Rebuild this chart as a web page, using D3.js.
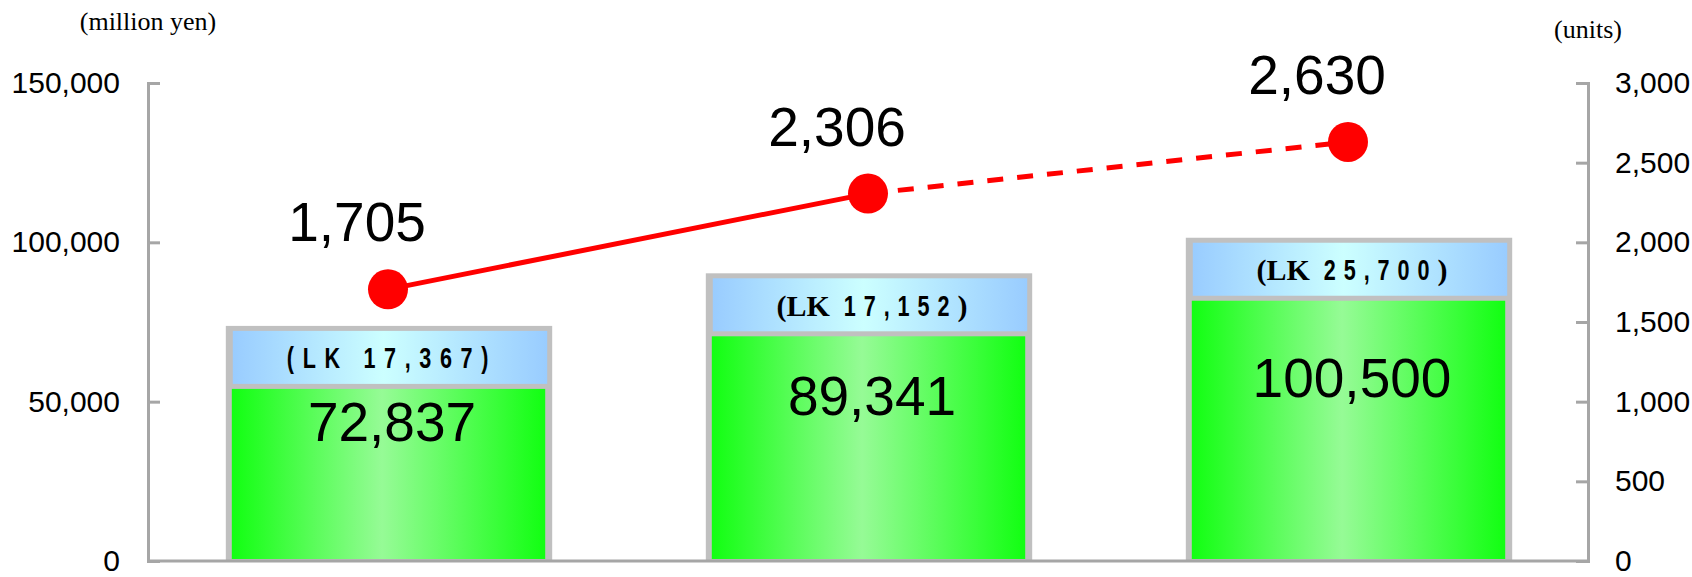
<!DOCTYPE html>
<html>
<head>
<meta charset="utf-8">
<script src="https://cdn.jsdelivr.net/npm/d3@7"></script>
<style>
  html, body { margin: 0; padding: 0; background: #ffffff; }
  svg { display: block; }
  text.row { white-space: pre; }
</style>
</head>
<body>
<svg id="chart" width="1692" height="577"></svg>
<script>
// ---- data ----
const categories = ["Year 1", "Year 2", "Year 3"];
const salesValues = [72837, 89341, 100500];   // million yen (bars)
const lkValues = [17367, 17152, 25700];       // LK figures shown in bar headers
const unitValues = [1705, 2306, 2630];        // units (line, right axis)
const projected = [false, false, true];       // segment leading into this point is dashed
const leftTicks = [0, 50000, 100000, 150000];
const rightTicks = [0, 500, 1000, 1500, 2000, 2500, 3000];
const leftUnit = "(million yen)";
const rightUnit = "(units)";

// ---- layout ----
const plot = { left: 148, right: 1588, top: 83, bottom: 561 };
const axisColor = "#a6a6a6";
const sansFont = "'Liberation Sans', Arial, sans-serif";
const serifFont = "'Liberation Serif', 'Times New Roman', serif";
const fmt = d3.format(",");

const svg = d3.select("#chart");

const x = d3.scaleBand()
  .domain(categories)
  .range([plot.left, plot.right])
  .paddingInner(0.32)
  .paddingOuter(0.16);

const yLeft = d3.scaleLinear().domain([0, 150000]).range([plot.bottom, plot.top]);
const yRight = d3.scaleLinear().domain([0, 3000]).range([plot.bottom, plot.top]);

// ---- gradients ----
const defs = svg.append("defs");
function hGradient(id, edge, mid) {
  const g = defs.append("linearGradient").attr("id", id)
    .attr("x1", "0%").attr("x2", "100%").attr("y1", "0%").attr("y2", "0%");
  g.append("stop").attr("offset", "0%").attr("stop-color", edge);
  g.append("stop").attr("offset", "48%").attr("stop-color", mid);
  g.append("stop").attr("offset", "100%").attr("stop-color", edge);
}
hGradient("greenFill", "#12ff12", "#96fb96");
hGradient("blueFill", "#99ccff", "#ccffff");

// ---- bars ----
const bw = x.bandwidth();
const headerH = 53;
const bars = svg.append("g").selectAll("g")
  .data(categories.map((c, i) => ({ c, v: salesValues[i], lk: lkValues[i], i })))
  .join("g");

bars.append("rect")
  .attr("x", d => x(d.c) + 1)
  .attr("y", d => yLeft(d.v) - 3)
  .attr("width", bw)
  .attr("height", d => plot.bottom - yLeft(d.v) + 3)
  .attr("fill", "#c0c0c0");

bars.append("rect")
  .attr("x", d => x(d.c) + 8)
  .attr("y", d => yLeft(d.v) + 2)
  .attr("width", bw - 12)
  .attr("height", headerH)
  .attr("fill", "url(#blueFill)");

bars.append("rect")
  .attr("x", d => x(d.c) + 7)
  .attr("y", d => yLeft(d.v) + 2 + headerH + 5)
  .attr("width", bw - 13)
  .attr("height", d => plot.bottom - 2 - (yLeft(d.v) + 2 + headerH + 5))
  .attr("fill", "url(#greenFill)");

// Draws a row of text pieces (some horizontally condensed), centred on cx.
function textRow(g, pieces, cx, baseline) {
  const nodes = pieces.map(p => {
    const t = g.append("text")
      .attr("class", "row")
      .attr("font-family", p.font)
      .attr("font-size", p.size)
      .attr("font-weight", "bold")
      .attr("letter-spacing", p.spacing || 0)
      .attr("fill", "#000")
      .text(p.text);
    const w = t.node().getComputedTextLength() * (p.sx || 1);
    return { t, w, p };
  });
  const total = d3.sum(nodes, n => n.w);
  let cur = cx - total / 2;
  nodes.forEach(n => {
    n.t.attr("transform", `translate(${cur},${baseline}) scale(${n.p.sx || 1},1)`);
    cur += n.w;
  });
}

// header labels "(LK xx,xxx)"
bars.each(function (d) {
  const g = d3.select(this);
  const cx = x(d.c) + bw / 2 + 4;
  const baseline = yLeft(d.v) + 2 + headerH / 2 + 11;
  const lk = fmt(d.lk);
  if (d.i === 0) {
    textRow(g, [
      { text: "(LK " + lk + ")", font: sansFont, size: 30, sx: 0.72, spacing: 12 }
    ], cx, baseline);
  } else {
    textRow(g, [
      { text: "(LK", font: serifFont, size: 30 },
      { text: " " + lk, font: sansFont, size: 30, sx: 0.72, spacing: 11 },
      { text: ")", font: serifFont, size: 30 }
    ], cx, baseline);
  }
});

// value labels inside the green part
bars.append("text")
  .attr("x", d => x(d.c) + bw / 2 + 4)
  .attr("y", d => yLeft(d.v / 2) - 4)
  .attr("text-anchor", "middle")
  .attr("font-family", sansFont)
  .attr("font-size", 55)
  .attr("fill", "#000")
  .text(d => fmt(d.v));

// ---- axes ----
const leftAxis = d3.axisLeft(yLeft)
  .tickValues(leftTicks)
  .tickFormat(fmt)
  .tickSizeInner(-12)
  .tickSizeOuter(-12)
  .tickPadding(28);
const rightAxis = d3.axisRight(yRight)
  .tickValues(rightTicks)
  .tickFormat(fmt)
  .tickSizeInner(-12)
  .tickSizeOuter(-12)
  .tickPadding(27);

function styleAxis(g) {
  g.select(".domain").attr("stroke", axisColor).attr("stroke-width", 3).attr("fill", "none");
  g.selectAll(".tick line").attr("stroke", axisColor).attr("stroke-width", 3);
  g.selectAll(".tick text")
    .attr("font-family", sansFont)
    .attr("font-size", 30)
    .attr("fill", "#000")
    .attr("dy", "0.32em");
}

svg.append("g").attr("transform", `translate(${plot.left},0)`).call(leftAxis).call(styleAxis);
svg.append("g").attr("transform", `translate(${plot.right},0)`).call(rightAxis).call(styleAxis);

// baseline
svg.append("line")
  .attr("x1", plot.left).attr("x2", plot.right)
  .attr("y1", yLeft(0)).attr("y2", yLeft(0))
  .attr("stroke", axisColor).attr("stroke-width", 3);

// unit captions
svg.append("text")
  .attr("x", plot.left).attr("y", 30)
  .attr("text-anchor", "middle")
  .attr("font-family", serifFont).attr("font-size", 26)
  .text(leftUnit);
svg.append("text")
  .attr("x", plot.right).attr("y", 38)
  .attr("text-anchor", "middle")
  .attr("font-family", serifFont).attr("font-size", 26)
  .text(rightUnit);

// ---- line (units) ----
const pts = categories.map((c, i) => ({
  x: x(c) + bw / 2,
  y: yRight(unitValues[i]),
  v: unitValues[i],
  dashed: projected[i]
}));

const segs = svg.append("g");
for (let i = 1; i < pts.length; i++) {
  segs.append("path")
    .attr("d", d3.line().x(p => p.x).y(p => p.y)([pts[i - 1], pts[i]]))
    .attr("fill", "none")
    .attr("stroke", "#ff0000")
    .attr("stroke-width", 5)
    .attr("stroke-dasharray", pts[i].dashed ? "16,14" : null);
}

svg.append("g").selectAll("circle")
  .data(pts)
  .join("circle")
  .attr("cx", p => p.x)
  .attr("cy", p => p.y)
  .attr("r", 20)
  .attr("fill", "#ff0000");

svg.append("g").selectAll("text")
  .data(pts)
  .join("text")
  .attr("x", p => p.x - 31)
  .attr("y", p => p.y - 48)
  .attr("text-anchor", "middle")
  .attr("font-family", sansFont)
  .attr("font-size", 55)
  .attr("fill", "#000")
  .text(p => fmt(p.v));
</script>
</body>
</html>
